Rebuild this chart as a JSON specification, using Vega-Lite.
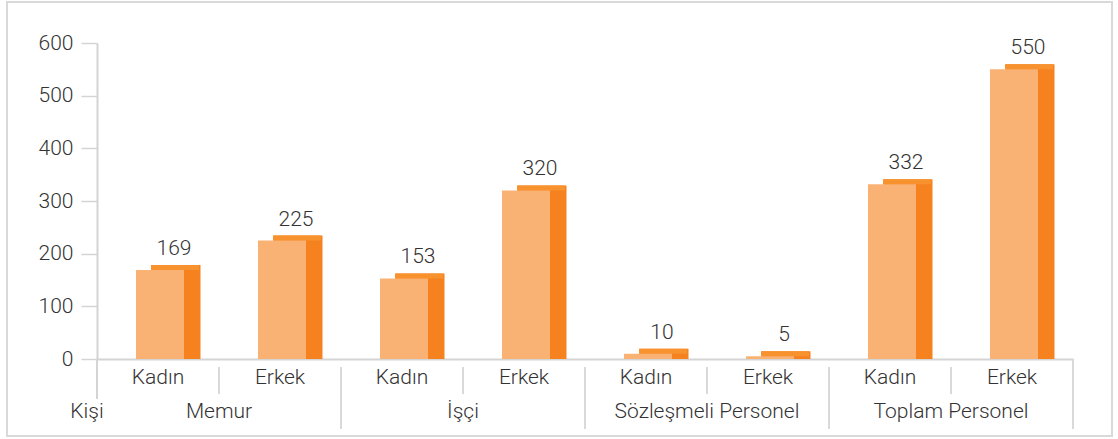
{
  "$schema": "https://vega.github.io/schema/vega-lite/v6.json",
  "autosize": "none",
  "padding": {"left": 7, "top": 2, "right": 6, "bottom": 3},
  "width": 1105,
  "height": 434,
  "config": {
    "view": {"stroke": "#d9d9d9", "strokeWidth": 2},
    "font": "Roboto",
    "text": {"font": "Roboto", "fontWeight": 300, "fontSize": 21, "color": "#333333"}
  },
  "data": {
    "values": [
      {"key": "M-K", "group": "Memur", "gender": "Kadın", "value": 169},
      {"key": "M-E", "group": "Memur", "gender": "Erkek", "value": 225},
      {"key": "I-K", "group": "İşçi", "gender": "Kadın", "value": 153},
      {"key": "I-E", "group": "İşçi", "gender": "Erkek", "value": 320},
      {"key": "S-K", "group": "Sözleşmeli Personel", "gender": "Kadın", "value": 10},
      {"key": "S-E", "group": "Sözleşmeli Personel", "gender": "Erkek", "value": 5},
      {"key": "T-K", "group": "Toplam Personel", "gender": "Kadın", "value": 332},
      {"key": "T-E", "group": "Toplam Personel", "gender": "Erkek", "value": 550}
    ]
  },
  "layer": [
    {
      "mark": {"type": "bar", "width": 49, "color": "#F5821F", "xOffset": 18, "yOffset": -5, "y2Offset": 0},
      "encoding": {
        "x": {
          "field": "key", "type": "nominal", "sort": null, "title": null,
          "scale": {"range": [90, 1066], "paddingInner": 0, "paddingOuter": 0},
          "axis": {"offset": -77, "labels": false, "ticks": false, "domainColor": "#d4d4d4", "domainWidth": 2, "title": null}
        },
        "y": {
          "field": "value", "type": "quantitative", "title": null,
          "scale": {"domain": [0, 600], "range": [357, 41], "nice": false, "zero": true},
          "axis": {"values": [0, 100, 200, 300, 400, 500, 600], "offset": -90, "tickSize": 16, "tickColor": "#d4d4d4", "tickWidth": 1.5, "domainColor": "#d4d4d4", "domainWidth": 2, "labelFontSize": 21, "labelFont": "Roboto", "labelFontWeight": 300, "labelColor": "#333333", "labelPadding": 8, "grid": false, "title": null}
        },
        "y2": {"datum": 0}
      }
    },
    {
      "mark": {"type": "bar", "width": 48, "color": "#F7922F", "xOffset": 17, "yOffset": -5, "y2Offset": 0},
      "encoding": {
        "x": {"field": "key", "type": "nominal", "sort": null},
        "y": {"field": "value", "type": "quantitative"},
        "y2": {"field": "value"}
      }
    },
    {
      "mark": {"type": "bar", "width": 48, "color": "#FAB274", "xOffset": 2},
      "encoding": {
        "x": {"field": "key", "type": "nominal", "sort": null},
        "y": {"field": "value", "type": "quantitative"}
      }
    },
    {
      "mark": {"type": "text", "dx": 16, "dy": -21, "baseline": "middle"},
      "encoding": {
        "x": {"field": "key", "type": "nominal", "sort": null},
        "y": {"field": "value", "type": "quantitative"},
        "text": {"field": "value", "type": "quantitative"}
      }
    },
    {
      "mark": {"type": "text", "dy": 19, "baseline": "middle"},
      "encoding": {
        "x": {"field": "key", "type": "nominal", "sort": null},
        "y": {"datum": 0},
        "text": {"field": "gender", "type": "nominal"}
      }
    },
    {
      "transform": [{"filter": "datum.gender == 'Erkek'"}],
      "mark": {"type": "text", "dy": 53, "baseline": "middle"},
      "encoding": {
        "x": {"field": "key", "type": "nominal", "sort": null, "bandPosition": 0},
        "y": {"datum": 0},
        "text": {"field": "group", "type": "nominal"}
      }
    },
    {
      "transform": [{"filter": "datum.key == 'M-K'"}],
      "mark": {"type": "text", "dy": 53, "dx": -10, "baseline": "middle"},
      "encoding": {
        "x": {"field": "key", "type": "nominal", "sort": null, "bandPosition": 0},
        "y": {"datum": 0},
        "text": {"value": "Kişi"}
      }
    },
    {
      "transform": [{"filter": "datum.gender == 'Erkek'"}],
      "mark": {"type": "rule", "color": "#d9d9d9", "strokeWidth": 2, "yOffset": 8, "y2Offset": 35},
      "encoding": {
        "x": {"field": "key", "type": "nominal", "sort": null, "bandPosition": 0},
        "y": {"datum": 0},
        "y2": {"datum": 0}
      }
    },
    {
      "transform": [{"filter": "datum.gender == 'Kadın' && datum.group != 'Memur'"}],
      "mark": {"type": "rule", "color": "#d9d9d9", "strokeWidth": 2, "yOffset": 8, "y2Offset": 70},
      "encoding": {
        "x": {"field": "key", "type": "nominal", "sort": null, "bandPosition": 0},
        "y": {"datum": 0},
        "y2": {"datum": 0}
      }
    },
    {
      "transform": [{"filter": "datum.key == 'T-E'"}],
      "mark": {"type": "rule", "color": "#d9d9d9", "strokeWidth": 2, "yOffset": 0, "y2Offset": 70},
      "encoding": {
        "x": {"field": "key", "type": "nominal", "sort": null, "bandPosition": 1},
        "y": {"datum": 0},
        "y2": {"datum": 0}
      }
    },
    {
      "transform": [{"filter": "datum.key == 'M-K'"}],
      "mark": {"type": "rule", "color": "#d4d4d4", "strokeWidth": 2, "yOffset": 0, "y2Offset": 40},
      "encoding": {
        "x": {"field": "key", "type": "nominal", "sort": null, "bandPosition": 0},
        "y": {"datum": 0},
        "y2": {"datum": 0}
      }
    }
  ]
}
